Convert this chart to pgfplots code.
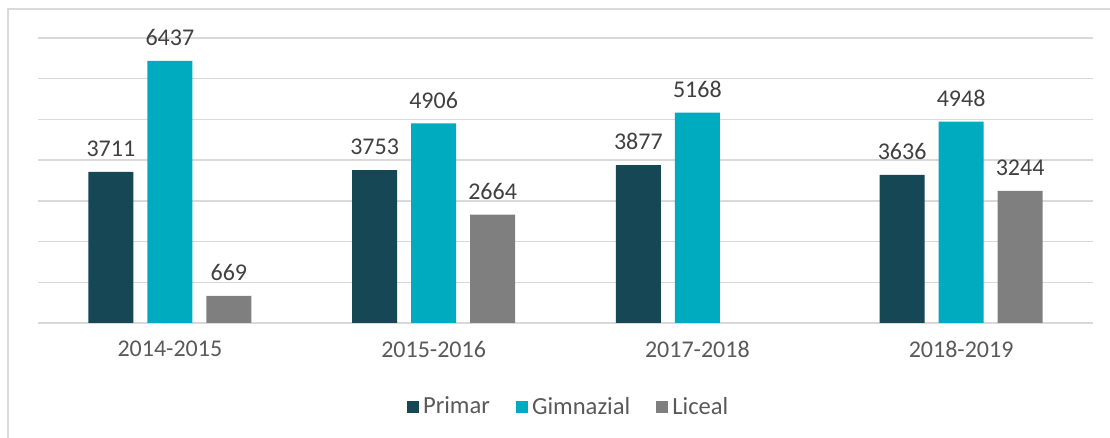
\documentclass[border=0pt]{standalone}
\usepackage{fontspec}
\setmainfont{Carlito}
\usepackage{pgfplots}
\pgfplotsset{compat=1.18}
\definecolor{cPrim}{RGB}{21,71,84}
\definecolor{cGim}{RGB}{0,171,191}
\definecolor{cLic}{RGB}{127,127,127}
\definecolor{cGrid}{RGB}{217,217,217}
\definecolor{cTxt}{RGB}{89,89,89}
\definecolor{cLab}{RGB}{64,64,64}
\begin{document}
\begin{tikzpicture}[font=\fontsize{12}{14}\selectfont]
\begin{axis}[
  name=ax,
  at={(0,0)}, anchor=south west,
  scale only axis,
  width=527.5pt, height=142.5pt,
  ybar=7pt, bar width=22.5pt,
  xmin=-0.5, xmax=3.5,
  ymin=0, ymax=7000,
  xtick={0,1,2,3},
  xticklabels={2014-2015,2015-2016,2017-2018,2018-2019},
  ytick={0,1000,...,7000},
  yticklabels={},
  major tick length=0pt,
  ymajorgrids,
  grid style={cGrid, line width=0.75pt},
  axis line style={draw=none},
  x tick label style={text=cTxt, yshift=-5.5pt},
  /pgf/number format/assume math mode=true,
  /pgf/number format/1000 sep={},
  nodes near coords,
  every node near coord/.append style={text=cLab, anchor=south, yshift=4pt, font=\fontsize{12}{14}\selectfont},
  legend columns=3,
  legend style={draw=none, fill=none, at={(0.504,0)}, anchor=center, yshift=-42pt,
    text=cTxt, font=\fontsize{12.3}{14}\selectfont,
    /tikz/every even column/.append style={column sep=11pt},
    inner sep=0pt},
  legend image code/.code={\fill[#1] (0pt,-3pt) rectangle (6pt,3pt);},
]
\addplot[fill=cPrim, draw=none] coordinates {(0,3711) (1,3753) (2,3877) (3,3636)};
\addplot[fill=cGim, draw=none] coordinates {(0,6437) (1,4906) (2,5168) (3,4948)};
\addplot[fill=cLic, draw=none] coordinates {(0,669) (1,2664) (3,3244)};
\legend{Primar,Gimnazial,Liceal}
\end{axis}
\begin{scope}[shift={(ax.south west)}]
  \draw[cGrid, line width=0.75pt] (-15pt,-70pt) -- (-15pt,157pt) -- (560pt,157pt);
  \pgfresetboundingbox
  \useasboundingbox (-19pt,-57.5pt) rectangle (536pt,161.5pt);
\end{scope}
\end{tikzpicture}
\end{document}
